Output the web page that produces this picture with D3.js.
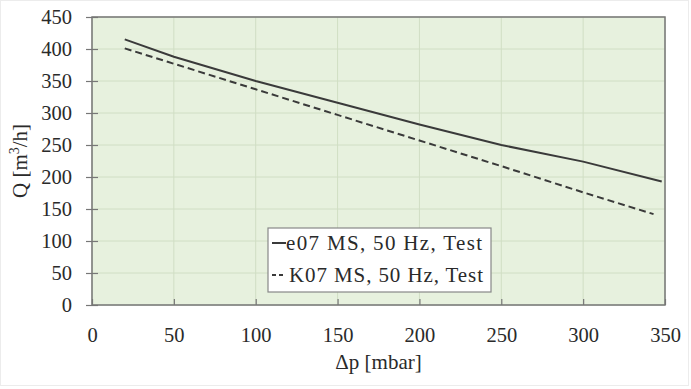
<!DOCTYPE html>
<html>
<head>
<meta charset="utf-8">
<script src="https://cdn.jsdelivr.net/npm/d3@7"></script>
<style>
  body { margin: 0; background: #fff; }
  svg text { font-family: 'Liberation Serif', serif; fill: #2a2a2a; }
</style>
</head>
<body>
<div id="chart"></div>
<script>
// pressure difference [mbar] and flow [m3/h]
const dpE07 = [20, 50, 100, 150, 200, 250, 300, 348];
const qE07 = [415, 388, 350, 316, 282, 250, 224, 193];
const dpK07 = [20, 50, 100, 150, 200, 250, 300, 343];
const qK07 = [401, 377, 337, 297, 257, 217, 176, 142];
const seriesNames = ["e07 MS, 50 Hz, Test", "K07 MS, 50 Hz, Test"];
const xTicks = [0, 50, 100, 150, 200, 250, 300, 350];
const yTicks = [0, 50, 100, 150, 200, 250, 300, 350, 400, 450];

const W = 691, H = 389;
const margin = { top: 17, right: 26, bottom: 84, left: 92 };
const width = W - margin.left - margin.right;
const height = H - margin.top - margin.bottom;

const svg = d3.select("#chart").append("svg")
    .attr("width", W)
    .attr("height", H);

// faint frame around the picture
svg.append("rect")
    .attr("x", 0.5).attr("y", 0.5)
    .attr("width", W - 3).attr("height", H - 4)
    .attr("fill", "none")
    .attr("stroke", "#ececec");

const g = svg.append("g")
    .attr("transform", `translate(${margin.left},${margin.top})`);

const x = d3.scaleLinear().domain([0, 350]).range([0, width]);
const y = d3.scaleLinear().domain([0, 450]).range([height, 0]);

// plot background
g.append("rect")
    .attr("width", width)
    .attr("height", height)
    .attr("fill", "#e7f1de");

// grid
g.append("g").selectAll("line")
    .data(xTicks)
    .enter().append("line")
    .attr("x1", d => x(d)).attr("x2", d => x(d))
    .attr("y1", 0).attr("y2", height)
    .attr("stroke", "#d0dec4").attr("stroke-width", 1);

g.append("g").selectAll("line")
    .data(yTicks)
    .enter().append("line")
    .attr("y1", d => y(d)).attr("y2", d => y(d))
    .attr("x1", 0).attr("x2", width)
    .attr("stroke", "#d0dec4").attr("stroke-width", 1);

// axes
const xAxis = g.append("g")
    .attr("transform", `translate(0,${height})`)
    .call(d3.axisBottom(x).tickValues(xTicks).tickSizeInner(-6).tickSizeOuter(0).tickPadding(22));
const yAxis = g.append("g")
    .call(d3.axisLeft(y).tickValues(yTicks).tickSizeInner(6).tickSizeOuter(0).tickPadding(14));

[xAxis, yAxis].forEach(ax => {
    ax.select(".domain").remove();
    ax.selectAll("line").attr("stroke", "#777").attr("stroke-width", 1.2);
    ax.selectAll("text")
        .attr("font-size", "20.5px")
        .attr("font-family", "'Liberation Serif', serif")
        .attr("fill", "#2a2a2a");
});
yAxis.selectAll(".tick line").attr("x2", 6).attr("x1", -6);

// frame of the plot area
g.append("rect")
    .attr("width", width)
    .attr("height", height)
    .attr("fill", "none")
    .attr("stroke", "#777")
    .attr("stroke-width", 1.5);

// lines
const line = d3.line()
    .x(d => x(d[0]))
    .y(d => y(d[1]));

g.append("path")
    .datum(d3.zip(dpE07, qE07))
    .attr("d", line)
    .attr("fill", "none")
    .attr("stroke", "#3a3a3a")
    .attr("stroke-width", 2);

g.append("path")
    .datum(d3.zip(dpK07, qK07))
    .attr("d", line)
    .attr("fill", "none")
    .attr("stroke", "#3a3a3a")
    .attr("stroke-width", 2)
    .attr("stroke-dasharray", "7,4");

// legend
const legend = svg.append("g")
    .attr("transform", "translate(268,228)");

legend.append("rect")
    .attr("width", 223)
    .attr("height", 64)
    .attr("fill", "#fff")
    .attr("stroke", "#888")
    .attr("stroke-width", 1.2);

const legendDash = [null, "4,3"];
seriesNames.forEach((name, i) => {
    const ly = 15 + i * 32;
    legend.append("line")
        .attr("x1", 4).attr("x2", 18)
        .attr("y1", ly).attr("y2", ly)
        .attr("stroke", "#3a3a3a")
        .attr("stroke-width", 2)
        .attr("stroke-dasharray", legendDash[i]);
    legend.append("text")
        .attr("x", i === 0 ? 18 : 21)
        .attr("y", ly + 7)
        .attr("font-size", "21px")
        .attr("textLength", i === 0 ? 196 : 194)
        .text(name);
});

// axis labels
svg.append("text")
    .attr("x", margin.left + width / 2)
    .attr("y", 369)
    .attr("text-anchor", "middle")
    .attr("font-size", "21px")
    .text("Δp [mbar]");

svg.append("text")
    .attr("transform", `translate(27,${margin.top + height / 2}) rotate(-90)`)
    .attr("text-anchor", "middle")
    .attr("font-size", "21px")
    .html("Q [m<tspan dy='-8' font-size='14px'>3</tspan><tspan dy='8'>/h]</tspan>");
</script>
</body>
</html>
